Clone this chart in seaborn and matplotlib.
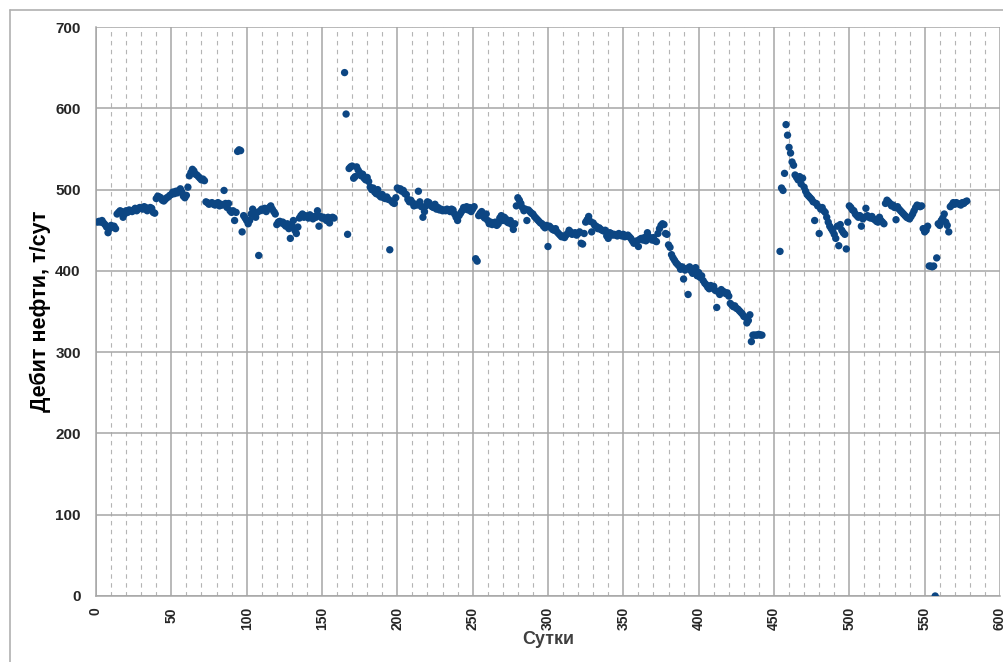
import numpy as np
import pandas as pd
import seaborn as sns
import matplotlib.pyplot as plt
from matplotlib.lines import Line2D
from matplotlib.ticker import MultipleLocator

# Daily oil rate, t/day; three runs of consecutive days
start_a = 1
rate_a = [
    460, 461, 460, 462, 459, 457, 454, 447, 452, 456, 454, 455, 452, 470, 472, 474, 473, 466, 470, 474,
    472, 475, 474, 473, 475, 477, 474, 476, 478, 477, 476, 479, 478, 474, 476, 478, 477, 472, 471, 489,
    492, 491, 490, 487, 486, 488, 490, 491, 493, 494, 497, 495, 498, 496, 499, 501, 497, 492, 490, 493,
    503, 517, 521, 525, 523, 519, 518, 516, 514, 512, 513, 511, 485, 484, 482, 483, 484, 482, 481, 483,
    484, 480, 482, 481, 499, 483, 478, 483, 474, 472, 474, 462, 472, 547, 549, 548, 448, 468, 465, 462,
    458, 462, 470, 476, 468, 466, 472, 419, 474, 476, 475, 477, 473, 476, 478, 480, 476, 473, 470, 457,
    460, 461, 459, 460, 457, 455, 458, 452, 440, 456, 462, 450, 446, 454, 465, 468, 470, 466, 468, 467,
    465, 469, 466, 464, 467, 466, 474, 455, 467, 465, 466, 464, 462, 466, 459, 465, 466, 465,
]

start_b = 165
rate_b = [
    644, 593, 445, 526, 528, 529, 514, 516, 528, 524, 521, 517, 519, 514, 512, 515, 510, 503, 500, 502,
    497, 495, 500, 493, 491, 494, 490, 489, 491, 488, 426, 486, 484, 483, 490, 502, 500, 501, 498, 499,
    495, 494, 488, 485, 487, 484, 480, 482, 481, 498, 485, 479, 466, 473, 480, 485, 484, 481, 479, 478,
    482, 476, 478, 475, 476, 474, 475, 474, 476, 475, 473, 476, 475, 470, 466, 462, 468, 471, 474, 478,
    476, 479, 475, 478, 473, 476, 479, 415, 412, 468, 471, 473, 467, 465, 470, 462, 458, 460, 457, 459,
    460, 456, 458, 465, 468, 462, 466, 464, 460, 459, 462, 457, 451, 458, 480, 490, 487, 483, 478, 474,
    476, 462, 475, 473, 471, 470, 467, 465, 463, 461, 459, 458, 455, 453, 456, 430, 455, 453, 451, 450,
    452, 448, 446, 444, 442, 443, 441, 444, 446, 450, 448, 445, 446, 447, 444, 446, 448, 434, 433, 446,
    460, 463, 467, 461, 448, 459, 456, 455, 452, 453, 451, 450, 449, 450, 443, 440, 447, 446, 444, 445,
    444, 443, 446, 444, 443, 445, 442, 443, 444, 442, 440, 437, 434, 435, 437, 430, 439, 440, 438, 441,
    437, 447, 442, 440, 438, 441, 437, 436, 446, 452, 456, 458, 457, 446, 445, 432, 429, 420, 416, 413,
    410, 408, 406, 402, 405, 390, 401, 403, 371, 405, 400, 397, 402, 404, 394, 398, 392, 394, 388, 385,
    383, 380, 378, 382, 379, 381, 376, 355, 374, 371, 377, 375, 374, 372, 373, 369, 360, 358, 356, 357,
    354, 353, 351, 349, 347, 344, 343, 336, 339, 346, 313, 321, 321, 321, 321, 322, 321, 321,
]

start_c = 454
rate_c = [
    424, 502, 499, 520, 580, 567, 552, 545, 534, 530, 518, 515, 512, 516, 507, 514, 503, 498, 494, 492,
    490, 488, 485, 462, 483, 480, 446, 476, 478, 474, 472, 466, 460, 455, 452, 449, 445, 440, 455, 431,
    457, 450, 447, 445, 427, 460, 480, 478, 475, 474, 470, 468, 466, 468, 455, 464, 466, 477, 468, 466,
    465, 467, 464, 463, 461, 460, 466, 462, 460, 458, 483, 487, 485, 483, 480, 481, 478, 463, 479, 476,
    474, 472, 470, 468, 466, 465, 464, 467, 470, 474, 478, 481, 480, 479, 480, 452, 448, 450, 455, 406,
    406, 405, 406, 0, 416, 458, 456, 462, 465, 470, 460, 456, 448, 479, 481, 484, 482, 484, 483, 482,
    481, 484, 483, 485, 486,
]

frames = []
for start, rate in [(start_a, rate_a), (start_b, rate_b), (start_c, rate_c)]:
    frames.append(pd.DataFrame({"day": np.arange(start, start + len(rate)), "rate": rate}))
data = pd.concat(frames, ignore_index=True)

sns.set_style("white")
plt.rcParams["font.family"] = ["Liberation Sans", "DejaVu Sans"]

fig = plt.figure(figsize=(10.04, 6.62), dpi=100)
ax = fig.add_axes([0.0956, 0.0997, 0.9004, 0.8594])

grid_col = "#a6a6a6"
ax.set_xlim(0, 600)
ax.set_ylim(0, 700)
ax.xaxis.set_major_locator(MultipleLocator(50))
ax.xaxis.set_minor_locator(MultipleLocator(10))
ax.yaxis.set_major_locator(MultipleLocator(100))
ax.grid(which="major", axis="both", color=grid_col, lw=1.1, ls="-")
ax.grid(which="minor", axis="x", color="#b4b4b4", lw=0.8, ls=(0, (4, 4)))
ax.set_axisbelow(True)

sns.scatterplot(data=data, x="day", y="rate", ax=ax, color="#0c4683",
                s=28, edgecolor="none", linewidth=0, zorder=3)

for side in ["top", "right"]:
    ax.spines[side].set_visible(False)
for side in ["left", "bottom"]:
    ax.spines[side].set_color(grid_col)
    ax.spines[side].set_linewidth(1.1)

ax.tick_params(axis="both", which="major", length=5, color=grid_col, width=1.1)
ax.tick_params(axis="y", labelsize=11, pad=6)
ax.tick_params(axis="x", labelsize=10, labelrotation=90, pad=3)
ax.tick_params(axis="x", which="minor", length=0)
for lab in ax.get_xticklabels() + ax.get_yticklabels():
    lab.set_fontweight("bold")

ax.set_xlabel("Сутки", fontsize=13, fontweight="bold", color="#3f3f3f")
ax.xaxis.set_label_coords(0.5, -0.062)
ax.set_ylabel("Дебит нефти, т/сут", fontsize=15.5, fontweight="bold", color="black")
ax.yaxis.set_label_coords(-0.05, 0.5)

# outer chart frame
fig.add_artist(Line2D([10 / 1004, 1.0], [1 - 10 / 662, 1 - 10 / 662],
                      transform=fig.transFigure, color="#b0b0b0", lw=1.2))
fig.add_artist(Line2D([10 / 1004, 10 / 1004], [0.0, 1 - 10 / 662],
                      transform=fig.transFigure, color="#b0b0b0", lw=1.2))

fig.savefig("out.png", dpi=100)
